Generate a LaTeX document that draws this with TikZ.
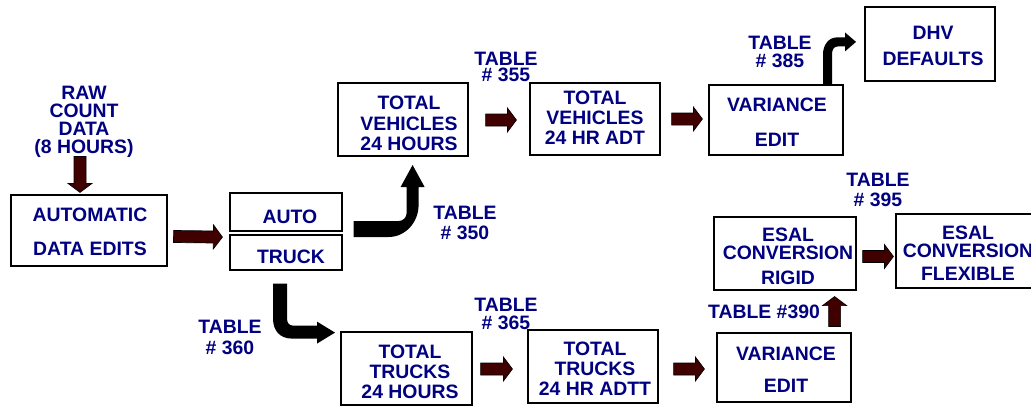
\documentclass[tikz,border=0pt]{standalone}
\usepackage{fontspec}
\setmainfont{Liberation Sans}
\usetikzlibrary{calc}
\definecolor{navytxt}{RGB}{0,0,128}
\definecolor{arrowred}{RGB}{64,0,0}
\newcommand\txtfont[1]{\fontsize{19.4}{#1}\selectfont\bfseries}
\newcommand\blockarrow[2]{%
  \coordinate (ba-s) at #1;
  \coordinate (ba-e) at #2;
  \coordinate (ba-b) at ($(ba-e)!9pt!(ba-s)$);
  \filldraw[blockarrow] ($(ba-s)!6pt!90:(ba-e)$) -- ($(ba-b)!6pt!-90:(ba-s)$)
    -- ($(ba-b)!12pt!-90:(ba-s)$) -- (ba-e) -- ($(ba-b)!12pt!90:(ba-s)$)
    -- ($(ba-b)!6pt!90:(ba-s)$) -- ($(ba-s)!6pt!-90:(ba-e)$) -- cycle;}
\tikzset{
  box/.style={draw=black, line width=1.2pt, fill=white, rectangle, inner sep=0pt},
  txt/.style={text=navytxt, align=center, inner sep=0pt},
  blockarrow/.style={fill=arrowred, draw=black, line width=0.7pt, line join=miter},
  bentarrow/.style={fill=black}
}
\begin{document}
\begin{tikzpicture}[x=1pt, y=-1pt]
\useasboundingbox (0,0) rectangle (1031,407);
\clip (0,0) rectangle (1031,407);

% boxes
\node[box, minimum width=156pt, minimum height=71pt] (ade) at (89,230.5) {};
\node[box, minimum width=112pt, minimum height=38pt] (auto) at (286,212) {};
\node[box, minimum width=112pt, minimum height=35pt] (truck) at (286,252.5) {};
\node[box, minimum width=130pt, minimum height=73pt] (tv24) at (403,119.5) {};
\node[box, minimum width=130pt, minimum height=72pt] (tvadt) at (595,119) {};
\node[box, minimum width=134pt, minimum height=70pt] (var1) at (776,120) {};
\node[box, minimum width=130pt, minimum height=74pt] (dhv) at (930,44) {};
\node[box, minimum width=131pt, minimum height=73pt] (tt24) at (406.5,368.5) {};
\node[box, minimum width=130pt, minimum height=73pt] (ttadtt) at (593,366.5) {};
\node[box, minimum width=134pt, minimum height=69pt] (var2) at (784,367.5) {};
\node[box, minimum width=142pt, minimum height=73pt] (rigid) at (785,253.5) {};
\node[box, minimum width=144pt, minimum height=74pt] (flex) at (968,251) {};

% box texts
\node[txt, font=\txtfont{34}] (ade-t) at (90,232) {AUTOMATIC\\DATA EDITS};
\node[txt, font=\txtfont{20}] (auto-t) at (290,217) {AUTO};
\node[txt, font=\txtfont{20}] (truck-t) at (291,257) {TRUCK};
\node[txt, font=\txtfont{20.5}] (tv24-t) at (409,123.5) {TOTAL\\VEHICLES\\24 HOURS};
\node[txt, font=\txtfont{20}] (tvadt-t) at (595,117.3) {TOTAL\\VEHICLES\\24 HR ADT};
\node[txt, font=\txtfont{35}] (var1-t) at (777,122.5) {VARIANCE\\EDIT};
\node[txt, font=\txtfont{26}] (dhv-t) at (933,46) {DHV\\DEFAULTS};
\node[txt, font=\txtfont{20}] (tt24-t) at (410,371.7) {TOTAL\\TRUCKS\\24 HOURS};
\node[txt, font=\txtfont{20}] (ttadtt-t) at (595,368.7) {TOTAL\\TRUCKS\\24 HR ADTT};
\node[txt, font=\txtfont{32}] (var2-t) at (786,370) {VARIANCE\\EDIT};
\node[txt, font=\txtfont{18}] (rigid-t) at (788,256.5) {ESAL\\CONVERSION\\[7pt]RIGID};
\node[txt, font=\txtfont{18.3}] (flex-t) at (968,253.4) {ESAL\\CONVERSION\\[5pt]FLEXIBLE};

% free labels
\node[txt, font=\txtfont{18}] (raw) at (84,122) {RAW\\COUNT\\DATA\\(8 HOURS)};
\node[txt, font=\txtfont{16}] (t355) at (506,67) {TABLE\\\# 355};
\node[txt, font=\txtfont{18}] (t385) at (780,52) {TABLE\\\# 385};
\node[txt, font=\txtfont{20}] (t350) at (465,223) {TABLE\\\# 350};
\node[txt, font=\txtfont{21}] (t360) at (230,337.5) {TABLE\\\# 360};
\node[txt, font=\txtfont{18}] (t365) at (506,314) {TABLE\\\# 365};
\node[txt, font=\txtfont{20}] (t395) at (878,190) {TABLE\\\# 395};
\node[txt, font=\txtfont{20}] (t390) at (764,312) {TABLE \#390};

% maroon block arrows
\blockarrow{($(ade.north)+(-9,-38)$)}{($(ade.north)+(-9,-2)$)}
\blockarrow{($(ade.east)+(6,6)$)}{($(auto.south west)+(-7,5.5)$)}
\blockarrow{($(tv24.east)+(17,0.5)$)}{($(tvadt.west)+(-13,1)$)}
\blockarrow{($(tvadt.east)+(11,0)$)}{($(var1.west)+(-6,-1)$)}
\blockarrow{($(tt24.east)+(8,0.5)$)}{($(ttadtt.west)+(-15,2.5)$)}
\blockarrow{($(ttadtt.east)+(15,2.5)$)}{($(var2.west)+(-12,1.5)$)}
\blockarrow{($(var2.north east)+(-17,-6)$)}{($(rigid.south east)+(-22,6)$)}
\blockarrow{($(rigid.east)+(6,3)$)}{($(flex.west)+(-2,5.5)$)}

% black bent arrows
\begin{scope}[shift={(auto.east)}]
\fill[bentarrow] (11,25) -- (46,25) .. controls (63,25) and (76,10) .. (76,-7)
  -- (76,-25) -- (82,-25) -- (70,-47) -- (58,-25) -- (64,-25) -- (64,1)
  .. controls (64,5) and (61,9) .. (56,9) -- (11,9) -- cycle;
\end{scope}
\begin{scope}[shift={(truck.south)}]
\fill[bentarrow] (-13,13) -- (-13,48) .. controls (-13,60) and (-6,68) .. (6,68)
  -- (31,68) -- (31,73) -- (49,62) -- (31,51) -- (31,55) -- (7,55)
  .. controls (3,55) and (1,52) .. (1,48) -- (1,13) -- cycle;
\end{scope}
\begin{scope}[shift={(var1.north)}]
\fill[bentarrow] (47,0) -- (47,-30) .. controls (47,-40) and (53,-47) .. (61,-47)
  -- (69,-47) -- (69,-52) -- (80,-42.5) -- (69,-33) -- (69,-38) -- (62,-38)
  .. controls (58,-38) and (56,-35) .. (56,-30) -- (56,0) -- cycle;
\end{scope}
\end{tikzpicture}
\end{document}
